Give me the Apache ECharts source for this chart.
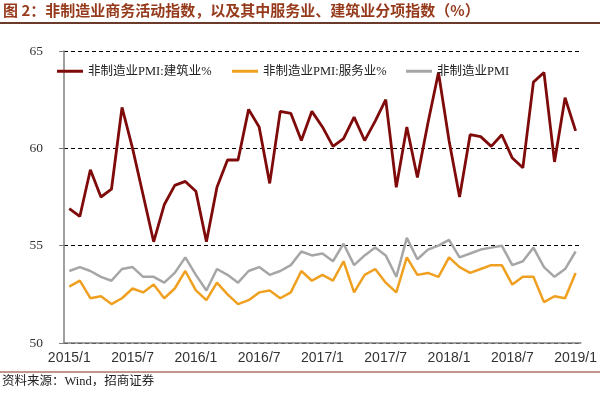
<!DOCTYPE html>
<html><head><meta charset="utf-8">
<script src="https://cdn.jsdelivr.net/npm/echarts@6/dist/echarts.min.js"></script>
<style>html,body{margin:0;padding:0;background:#fff}#c{width:600px;height:393px}</style>
</head><body><div id="c"></div>
<script>
const categories = [
 '2015/1','2015/2','2015/3','2015/4','2015/5','2015/6','2015/7','2015/8','2015/9','2015/10','2015/11','2015/12',
 '2016/1','2016/2','2016/3','2016/4','2016/5','2016/6','2016/7','2016/8','2016/9','2016/10','2016/11','2016/12',
 '2017/1','2017/2','2017/3','2017/4','2017/5','2017/6','2017/7','2017/8','2017/9','2017/10','2017/11','2017/12',
 '2018/1','2018/2','2018/3','2018/4','2018/5','2018/6','2018/7','2018/8','2018/9','2018/10','2018/11','2018/12',
 '2019/1'];
const construction = [56.9,56.5,58.9,57.5,57.9,62.1,60.0,57.6,55.2,57.1,58.1,58.3,
 57.8,55.2,58.0,59.4,59.4,62.0,61.1,58.2,61.9,61.8,60.4,61.9,
 61.1,60.1,60.5,61.6,60.4,61.4,62.5,58.0,61.1,58.5,61.3,63.9,
 60.4,57.5,60.7,60.6,60.1,60.7,59.5,59.0,63.4,63.9,59.3,62.6,
 60.9];
const services = [52.9,53.2,52.3,52.4,52.0,52.3,52.8,52.6,53.0,52.3,52.8,53.7,
 52.7,52.2,53.1,52.5,52.0,52.2,52.6,52.7,52.3,52.6,53.7,53.2,
 53.5,53.2,54.2,52.6,53.5,53.8,53.1,52.6,54.4,53.5,53.6,53.4,
 54.4,53.9,53.6,53.8,54.0,54.0,53.0,53.4,53.4,52.1,52.4,52.3,
 53.6];
const pmi = [53.7,53.9,53.7,53.4,53.2,53.8,53.9,53.4,53.4,53.1,53.6,54.4,
 53.5,52.7,53.8,53.5,53.1,53.7,53.9,53.5,53.7,54.0,54.7,54.5,
 54.6,54.2,55.1,54.0,54.5,54.9,54.5,53.4,55.4,54.3,54.8,55.0,
 55.3,54.4,54.6,54.8,54.9,55.0,54.0,54.2,54.9,53.9,53.4,53.8,
 54.7];
const seriesNames = ['非制造业PMI:建筑业%','非制造业PMI:服务业%','非制造业PMI'];
const titleText = '图 2：非制造业商务活动指数，以及其中服务业、建筑业分项指数（%）';
const sourceText = '资料来源：Wind，招商证券';

const chart = echarts.init(document.getElementById('c'));
const legendText = {fontFamily:'"Liberation Serif","Noto Sans CJK SC",serif', fontSize:12.5, color:'#222'};
function lg(name, left){
  return {data:[name], left:left, top:65, icon:'rect', itemWidth:26, itemHeight:3, itemGap:0,
          textStyle:legendText, padding:0};
}
chart.setOption({
  animation:false,
  title:{text:titleText, left:3, top:3, padding:0,
    textStyle:{fontFamily:'"Noto Sans CJK SC",sans-serif', fontSize:15, fontWeight:'bold', color:'#963a1c'}},
  graphic:[
    {type:'line', shape:{x1:0,y1:23,x2:600,y2:23}, style:{stroke:'#6b3a2a', lineWidth:2}},
    {type:'line', shape:{x1:0,y1:372,x2:600,y2:372}, style:{stroke:'#8b2a1a', lineWidth:1.2}},
    {type:'text', left:2, top:375, style:{text:sourceText, font:'12.5px "Liberation Serif","Noto Sans CJK SC",serif', fill:'#222'}}
  ],
  legend:[lg(seriesNames[0],57), lg(seriesNames[1],232), lg(seriesNames[2],406)],
  grid:{left:64, right:17, top:51, bottom:50},
  xAxis:{type:'category', data:categories, boundaryGap:true,
    axisLine:{lineStyle:{color:'#808080', width:1.5}},
    axisTick:{show:false},
    axisLabel:{interval:5, margin:8, fontFamily:'"Liberation Sans",Arial,sans-serif', fontSize:14, color:'#333'}},
  yAxis:{type:'value', min:50, max:65, interval:5,
    axisLine:{show:true, lineStyle:{color:'#808080', width:1.5}},
    axisTick:{show:true, length:5, lineStyle:{color:'#808080'}},
    axisLabel:{margin:21, fontFamily:'"Liberation Serif","Times New Roman",serif', fontSize:13.5, color:'#333'},
    splitLine:{lineStyle:{type:[4,3], color:'#000', width:1}}},
  series:[
    {name:seriesNames[1], type:'line', data:services, symbol:'none', z:2,
      lineStyle:{color:'#f0a020', width:2.5}, itemStyle:{color:'#f0a020'}},
    {name:seriesNames[2], type:'line', data:pmi, symbol:'none', z:2,
      lineStyle:{color:'#a6a6a6', width:2.5}, itemStyle:{color:'#a6a6a6'}},
    {name:seriesNames[0], type:'line', data:construction, symbol:'none', z:3,
      lineStyle:{color:'#7f0a0a', width:2.8}, itemStyle:{color:'#7f0a0a'}}
  ]
});
</script></body></html>
